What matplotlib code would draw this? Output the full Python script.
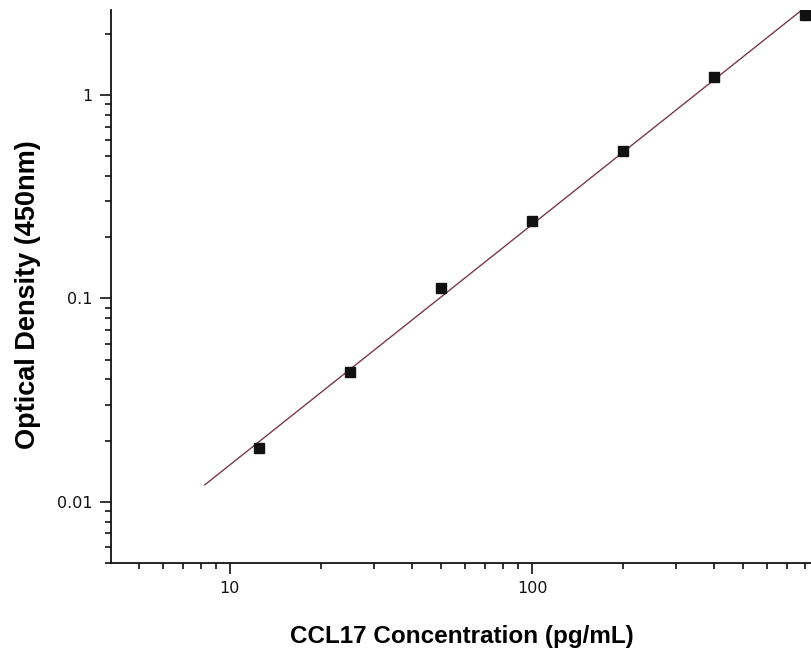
import numpy as np
import matplotlib
matplotlib.use("Agg")
import matplotlib.pyplot as plt
from matplotlib.ticker import LogLocator, FixedLocator, FixedFormatter, NullFormatter

# Data
concentration = [12.5, 25, 50, 100, 200, 400, 800]
optical_density = [0.0184, 0.0433, 0.113, 0.241, 0.531, 1.225, 2.47]
curve_range = [8.26, 800]
x_ticks = [10, 100]
x_tick_labels = ["10", "100"]
y_ticks = [0.01, 0.1, 1]
y_tick_labels = ["0.01", "0.1", "1"]

plt.rcParams['font.family'] = ['Liberation Sans', 'DejaVu Sans']

fig = plt.figure(figsize=(8.12, 6.49), dpi=100)
ax = fig.add_axes([0.1367, 0.1325, 0.8633, 0.852])

# fitted standard curve (linear in log-log space, derived from data)
lx = np.log10(concentration)
ly = np.log10(optical_density)
coef = np.polyfit(lx, ly, 1)
xs = np.logspace(np.log10(curve_range[0]), np.log10(curve_range[1]), 200)
ys = 10 ** np.polyval(coef, np.log10(xs))
ax.plot(xs, ys, color='#7a3a48', lw=1.0, zorder=2)

ax.plot(concentration, optical_density, 's', color='#111111', ms=6.5, zorder=3)

ax.set_xscale('log')
ax.set_yscale('log')
ax.set_xlim(4.04, 845)
ax.set_ylim(0.005, 2.62)

ax.xaxis.set_major_locator(FixedLocator(x_ticks))
ax.xaxis.set_major_formatter(FixedFormatter(x_tick_labels))
ax.xaxis.set_minor_locator(LogLocator(base=10, subs=np.arange(2, 10), numticks=20))
ax.xaxis.set_minor_formatter(NullFormatter())
ax.yaxis.set_major_locator(FixedLocator(y_ticks))
ax.yaxis.set_major_formatter(FixedFormatter(y_tick_labels))
ax.yaxis.set_minor_locator(LogLocator(base=10, subs=np.arange(2, 10), numticks=20))
ax.yaxis.set_minor_formatter(NullFormatter())

for s in ['top', 'right']:
    ax.spines[s].set_visible(False)
for s in ['left', 'bottom']:
    ax.spines[s].set_linewidth(1.3)
    ax.spines[s].set_color('#111111')

ax.tick_params(which='major', direction='out', length=8, width=1.2, colors='#111111', pad=5)
ax.tick_params(which='minor', direction='out', length=4.5, width=1.2, colors='#111111')
for lab in ax.get_xticklabels() + ax.get_yticklabels():
    lab.set_fontfamily('DejaVu Sans')
    lab.set_fontsize(11.5)

ax.set_xlabel('CCL17 Concentration (pg/mL)', fontsize=17.5, fontweight='bold', labelpad=21)
ax.set_ylabel('Optical Density (450nm)', fontsize=19.5, fontweight='bold', va='center')
ax.yaxis.set_label_coords(-0.119, 0.485)

fig.savefig('out.png', dpi=100)
